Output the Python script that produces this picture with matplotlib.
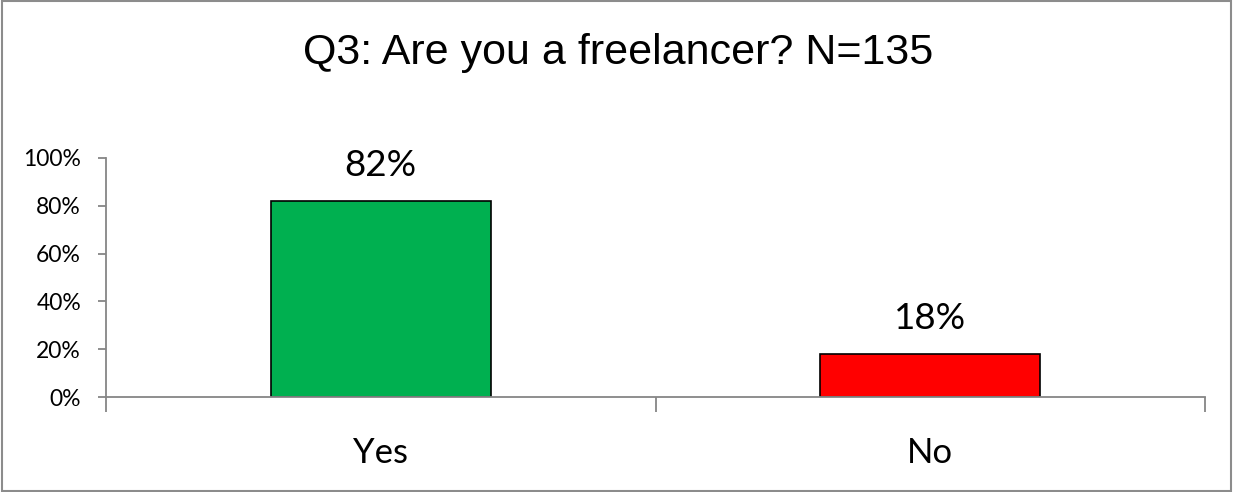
import matplotlib
matplotlib.use('Agg')
import matplotlib.pyplot as plt
from matplotlib.patches import Rectangle

# survey answers
categories = ['Yes', 'No']
shares = [82, 18]          # percent of respondents
bar_colors = ['#00B050', '#FF0000']
y_ticks = [0, 20, 40, 60, 80, 100]

axis_grey = '#868686'
label_font = ['Lato', 'DejaVu Sans']

fig = plt.figure(figsize=(12.33, 4.92), dpi=100)
ax = fig.add_axes([106 / 1233, 95 / 492, (1205 - 106) / 1233, (397 - 158) / 492])

x = range(len(categories))
bars = ax.bar(x, shares, width=0.4, color=bar_colors, edgecolor='black', linewidth=1.2)

# value labels above each bar
for rect, val in zip(bars, shares):
    ax.annotate('%d%%' % val, (rect.get_x() + rect.get_width() / 2, val),
                xytext=(0, 14), textcoords='offset points',
                ha='center', va='bottom', fontsize=26.5, family=label_font)

ax.set_xlim(-0.5, len(categories) - 0.5)
ax.set_ylim(0, 100)
ax.set_yticks(y_ticks)
ax.set_yticklabels(['%d%%' % t for t in y_ticks], fontsize=16.5, family=label_font)

# category ticks sit between the bars
ax.set_xticks([i - 0.5 for i in range(len(categories) + 1)])
ax.set_xticklabels([])
ax.tick_params(axis='x', length=11, width=1.3, color=axis_grey)
ax.tick_params(axis='y', length=6, width=1.3, color=axis_grey, pad=12)
for i, name in enumerate(categories):
    ax.text(i, -23.5, name, ha='center', va='center', fontsize=25,
            family=label_font, transform=ax.transData, clip_on=False)

for side in ['top', 'right']:
    ax.spines[side].set_visible(False)
for side in ['left', 'bottom']:
    ax.spines[side].set_color(axis_grey)
    ax.spines[side].set_linewidth(1.3)

fig.text(0.501, 1 - 53 / 492, 'Q3: Are you a freelancer? N=135', ha='center', va='center',
         fontsize=31, family=['Liberation Sans', 'DejaVu Sans'])

# outer chart frame
fig.patches.append(Rectangle((0.002, 0.002), 0.996, 0.996, transform=fig.transFigure,
                             fill=False, edgecolor='#8c8c8c', linewidth=1.5))

fig.savefig('out.png', dpi=100)
